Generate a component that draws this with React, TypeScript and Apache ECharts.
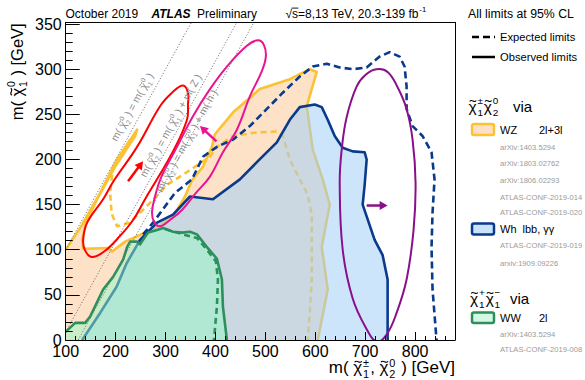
import React, { useEffect, useRef } from "react";
import * as echarts from "echarts";

// ---------------- data (GeV) ----------------
const X_RANGE = [100, 880];
const Y_RANGE = [0, 352];
const xMajorStep = 100;
const xMinorStep = 20;
const yMajorStep = 50;
const yMinorStep = 10;

// WZ (2l+3l) observed exclusion contour
const wzObserved: number[][] = [
  [100, 0], [100, 100], [129, 124], [169, 163], [203, 200], [243, 233], [239, 226], [199, 192],
  [163, 156], [141, 131], [133, 111], [135, 101], [185, 102], [193, 98], [219, 109], [259, 119],
  [289, 127], [319, 140], [339, 159], [353, 177], [375, 192], [393, 214], [399, 228], [435, 252],
  [489, 278], [549, 289], [589, 300], [603, 297], [583, 259], [595, 211], [615, 178], [629, 150],
  [613, 103], [625, 56], [605, 0],
];
// WZ expected
const wzExpected: number[][] = [
  [229, 222], [195, 192], [189, 163], [192, 140], [203, 126], [229, 130], [249, 141], [269, 152],
  [303, 172], [343, 186], [389, 203], [403, 214], [435, 226], [483, 230], [523, 231], [535, 226],
  [549, 200], [569, 178], [585, 161], [593, 139], [593, 103], [593, 67], [589, 30], [585, 0],
];
// Wh observed
const whObserved: number[][] = [
  [133, 0], [169, 30], [202, 59], [222, 85], [249, 111], [283, 130], [315, 139], [349, 159],
  [395, 156], [449, 178], [483, 197], [523, 219], [549, 244], [569, 258], [599, 261], [613, 258],
  [625, 244], [639, 226], [655, 213], [675, 209], [699, 208], [703, 200], [699, 172], [695, 150],
  [719, 111], [735, 94], [745, 67], [745, 0],
];
// Wh expected
const whExpected: number[][] = [
  [255, 117], [275, 130], [319, 163], [353, 178], [375, 203], [403, 214], [435, 222], [469, 237],
  [503, 256], [535, 274], [569, 292], [595, 303], [623, 306], [649, 302], [675, 300], [703, 302],
  [729, 314], [749, 319], [769, 314], [779, 303], [783, 281], [783, 256], [795, 237], [815, 226],
  [833, 208], [839, 178], [835, 141], [833, 103], [835, 56], [843, 0],
];
// WW (2l) observed
const wwObserved: number[][] = [
  [100, 0], [100, 9], [119, 19], [139, 19], [149, 26], [175, 56], [195, 70], [215, 89], [223, 103],
  [229, 109], [243, 109], [249, 106], [255, 111], [265, 119], [283, 122], [295, 124], [315, 120],
  [333, 119], [349, 120], [363, 117], [383, 103], [403, 90], [413, 67], [415, 37], [423, 0],
];
// WW expected
const wwExpected: number[][] = [
  [299, 123], [335, 117], [363, 113], [383, 100], [401, 87], [405, 67], [403, 37], [397, 0],
];
// highlighted regions (ellipses)
const redEllipse: number[][] = [
  [335, 282], [345, 274], [345, 261], [343, 244], [317, 211], [285, 180], [261, 158], [235, 133],
  [205, 113], [177, 98], [153, 92], [139, 99], [135, 111], [143, 130], [175, 156], [197, 177],
  [243, 214], [289, 259], [313, 274],
];
const magentaEllipse: number[][] = [
  [485, 332], [497, 327], [501, 314], [493, 298], [469, 270], [443, 233], [415, 208], [389, 181],
  [361, 163], [333, 144], [309, 133], [289, 126], [277, 131], [273, 142], [279, 159], [291, 180],
  [323, 214], [355, 248], [389, 278], [423, 303], [463, 326],
];
const purpleEllipse: number[][] = [
  [723, 300], [745, 297], [765, 280], [783, 256], [795, 222], [801, 174], [797, 122], [783, 67],
  [763, 30], [743, 6], [723, -2], [703, 12], [675, 46], [655, 100], [649, 174], [653, 211],
  [663, 247], [683, 281], [701, 294],
];
const redArrow: number[][] = [[225, 176], [255, 198]];
const magentaArrow: number[][] = [[402, 220], [369, 237]];
const purpleArrow: number[][] = [[703, 149], [745, 149]];
// kinematic lines
const kinLineZero: number[][] = [[100, 100], [352, 352]];
const kinLineZ: number[][] = [[100, 9], [443, 352]];
const kinLineH: number[][] = [[125, 0], [477, 352]];

const refsWZ = ["arXiv:1403.5294", "arXiv:1803.02762", "arXiv:1806.02293", "ATLAS-CONF-2019-014", "ATLAS-CONF-2019-020"];
const refsWh = ["ATLAS-CONF-2019-019", "arxiv:1909.09226"];
const refsWW = ["arXiv:1403.5294", "ATLAS-CONF-2019-008"];

// ---------------- styles ----------------
const FONT = '"Liberation Sans", Arial, Helvetica, sans-serif';
const C = {
  peach: "#fde2c8",
  orange: "#fbc232",
  blueFill: "rgba(162,208,248,0.55)",
  navy: "#0a3a8c",
  greenFill: "rgba(149,247,197,0.5)",
  green: "#2d8f5c",
  red: "#ff0000",
  magenta: "#ea1490",
  purple: "#8a108a",
  dotted: "#7a7a7a",
  grey: "#9a9a9a",
};

// ---------------- text helpers ----------------
let measureCtx: CanvasRenderingContext2D | null = null;
function textWidth(s: string, size: number, style = "normal", weight = "normal") {
  if (!measureCtx) measureCtx = document.createElement("canvas").getContext("2d");
  measureCtx!.font = `${style} ${weight} ${size}px ${FONT}`;
  return measureCtx!.measureText(s).width;
}
function textEl(s: string, x: number, baseline: number, size: number, fill = "#000", style = "normal", weight = "normal") {
  return {
    type: "text",
    x,
    y: baseline - 0.35 * size,
    z: 100,
    silent: true,
    style: {
      text: s,
      font: `${style} ${weight} ${size}px ${FONT}`,
      lineHeight: size * 0.85,
      fill,
      align: "left",
      verticalAlign: "middle",
      textAlign: "left",
      textVerticalAlign: "middle",
    },
  };
}
function tildeEl(cx: number, cy: number, size: number, color: string) {
  const w = size * 0.42;
  const h = size * 0.11;
  const x0 = cx - w / 2;
  return {
    type: "bezierCurve",
    z: 100,
    silent: true,
    shape: { x1: x0, y1: cy + h * 0.3, cpx1: x0 + w * 0.3, cpy1: cy - h * 1.6, cpx2: x0 + w * 0.7, cpy2: cy + h * 1.6, x2: x0 + w, y2: cy - h * 0.3 },
    style: { stroke: color, lineWidth: Math.max(0.8, size * 0.065), fill: "none" },
  };
}
type MPart = string | { chi?: boolean; sup?: string; sub?: string };
function buildMath(parts: MPart[], size: number, fill = "#000", supShift = 0.47) {
  const children: any[] = [];
  let x = 0;
  const ss = size * 0.64;
  for (const p of parts) {
    if (typeof p === "string") {
      children.push(textEl(p, x, 0, size, fill));
      x += textWidth(p, size);
      continue;
    }
    let bw = 0;
    if (p.chi) {
      const cw = textWidth("χ", size);
      children.push(textEl("χ", x, 0, size, fill));
      children.push(tildeEl(x + cw * 0.55, -size * 0.68, size, fill));
      bw = cw;
    }
    const sx = x + bw + size * 0.05;
    let sw = 0;
    if (p.sup) {
      children.push(textEl(p.sup, sx, -size * supShift, ss, fill));
      sw = Math.max(sw, textWidth(p.sup, ss));
    }
    if (p.sub) {
      children.push(textEl(p.sub, sx, size * 0.27, ss, fill));
      sw = Math.max(sw, textWidth(p.sub, ss));
    }
    x = sx + sw + size * 0.06;
  }
  return { children, width: x };
}
function group(x: number, y: number, rotation: number, children: any[]) {
  return { type: "group", x, y, rotation, z: 100, silent: true, children };
}

// ---------------- series helpers ----------------
function shapeSeries(pts: number[][], kind: "polygon" | "polyline", style: any, z: number, smooth = 0) {
  return {
    type: "custom",
    coordinateSystem: "cartesian2d",
    xAxisIndex: 0,
    yAxisIndex: 0,
    data: pts,
    encode: { x: 0, y: 1 },
    z,
    silent: true,
    clip: true,
    renderItem: (params: any, api: any) => {
      if (params.dataIndex !== 0) return;
      const points = pts.map((p) => api.coord(p));
      return { type: kind, shape: { points, smooth }, style };
    },
  };
}
function arrowSeries(pts: number[][], color: string, z: number) {
  return {
    type: "custom",
    coordinateSystem: "cartesian2d",
    xAxisIndex: 0,
    yAxisIndex: 0,
    data: pts,
    encode: { x: 0, y: 1 },
    z,
    silent: true,
    renderItem: (params: any, api: any) => {
      if (params.dataIndex !== 0) return;
      const a = api.coord(pts[0]);
      const b = api.coord(pts[1]);
      const dx = b[0] - a[0], dy = b[1] - a[1];
      const L = Math.hypot(dx, dy) || 1;
      const ux = dx / L, uy = dy / L;
      const hl = 8, hw = 4.5;
      const base = [b[0] - ux * hl, b[1] - uy * hl];
      const p1 = [base[0] - uy * hw, base[1] + ux * hw];
      const p2 = [base[0] + uy * hw, base[1] - ux * hw];
      return {
        type: "group",
        children: [
          { type: "line", shape: { x1: a[0], y1: a[1], x2: base[0] + ux * 2, y2: base[1] + uy * 2 }, style: { stroke: color, lineWidth: 2.5 } },
          { type: "polygon", shape: { points: [b, p1, p2] }, style: { fill: color } },
        ],
      };
    },
  };
}
const lineStyle = (stroke: string, w: number, dash?: number[]) => ({
  stroke, lineWidth: w, fill: "none", lineDash: dash, lineJoin: "round",
});

function buildOption() {
  const series: any[] = [
    shapeSeries(wzObserved, "polygon", { fill: C.peach }, 2),
    shapeSeries(wzObserved.slice(1), "polyline", lineStyle(C.orange, 2.6), 3),
    shapeSeries(wzExpected, "polyline", lineStyle(C.orange, 2.6, [6, 4]), 3),
    shapeSeries(whObserved, "polygon", { fill: C.blueFill }, 4),
    shapeSeries(whObserved, "polyline", lineStyle(C.navy, 2.6), 5),
    shapeSeries(whExpected, "polyline", lineStyle(C.navy, 2.6, [7, 4]), 5),
    shapeSeries(wwObserved, "polygon", { fill: C.greenFill }, 6),
    shapeSeries(wwObserved.slice(1), "polyline", lineStyle(C.green, 2.6), 7),
    shapeSeries(wwExpected, "polyline", lineStyle(C.green, 2.6, [6, 4]), 7),
    shapeSeries(kinLineZero, "polyline", lineStyle(C.dotted, 1, [1.2, 1.8]), 8),
    shapeSeries(kinLineZ, "polyline", lineStyle(C.dotted, 1, [1.2, 1.8]), 8),
    shapeSeries(kinLineH, "polyline", lineStyle(C.dotted, 1, [1.2, 1.8]), 8),
    shapeSeries(redEllipse, "polygon", { fill: "none", stroke: C.red, lineWidth: 2 }, 9, 0.4),
    shapeSeries(magentaEllipse, "polygon", { fill: "none", stroke: C.magenta, lineWidth: 2 }, 9, 0.4),
    shapeSeries(purpleEllipse, "polygon", { fill: "none", stroke: C.purple, lineWidth: 2 }, 9, 0.4),
    arrowSeries(redArrow, C.red, 10),
    arrowSeries(magentaArrow, C.magenta, 10),
    arrowSeries(purpleArrow, C.purple, 10),
  ];

  const G: any[] = [];
  // header
  G.push(textEl("October 2019", 65.5, 18.3, 12));
  G.push(textEl("ATLAS", 151.5, 18.3, 12, "#000", "italic", "bold"));
  G.push(textEl("Preliminary", 197, 18.3, 12));
  const ecm = buildMath(["√s=8,13 TeV, 20.3-139 fb", { sup: "-1" }], 12);
  const sqW = textWidth("√", 12);
  const sW = textWidth("s", 12);
  G.push(group(285.5, 18.3, 0, [
    ...ecm.children,
    { type: "line", z: 100, silent: true, shape: { x1: sqW - 0.5, y1: -10.2, x2: sqW + sW + 0.3, y2: -10.2 }, style: { stroke: "#000", lineWidth: 0.9 } },
  ]));
  G.push(textEl("All limits at 95% CL", 468, 18.3, 12.3));
  // line-style legend
  G.push({ type: "line", z: 100, silent: true, shape: { x1: 472, y1: 37, x2: 495, y2: 37 }, style: { stroke: "#000", lineWidth: 2.5, lineDash: [7, 4] } });
  G.push({ type: "line", z: 100, silent: true, shape: { x1: 472, y1: 57, x2: 495, y2: 57 }, style: { stroke: "#000", lineWidth: 2.5 } });
  G.push(textEl("Expected limits", 500, 40.6, 11.2));
  G.push(textEl("Observed limits", 500, 60.6, 11.2));
  // chi1+- chi20 block
  const t1 = buildMath([{ chi: true, sup: "±", sub: "1" }, { chi: true, sup: "0", sub: "2" }], 15.5);
  G.push(group(468.5, 111.5, 0, t1.children));
  G.push(textEl("via", 513, 111.5, 15));
  G.push({ type: "rect", z: 100, silent: true, shape: { x: 472, y: 124, width: 22, height: 11, r: 2 }, style: { fill: "#fde0c6", stroke: C.orange, lineWidth: 2.5 } });
  G.push(textEl("WZ", 500, 133.4, 11));
  G.push(textEl("2l+3l", 539, 133.4, 11));
  const wzY = [147.3, 163.3, 180.3, 197.3, 212.7];
  refsWZ.forEach((r, i) => G.push(textEl(r, 500, wzY[i] + 2.7, 7.6, C.grey)));
  G.push({ type: "rect", z: 100, silent: true, shape: { x: 472, y: 223.5, width: 22, height: 11, r: 2 }, style: { fill: "#c9e3f9", stroke: C.navy, lineWidth: 2.5 } });
  G.push(textEl("Wh", 500, 233.2, 11));
  G.push(textEl("lbb, γγ", 522.5, 233.2, 11));
  const whY = [245.7, 263.3];
  refsWh.forEach((r, i) => G.push(textEl(r, 500, whY[i] + 2.7, 7.6, C.grey)));
  // chi1+ chi1- block
  const t2 = buildMath([{ chi: true, sup: "+", sub: "1" }, { chi: true, sup: "−", sub: "1" }], 15.5);
  G.push(group(470, 303.5, 0, t2.children));
  G.push(textEl("via", 510, 303.5, 15));
  G.push({ type: "rect", z: 100, silent: true, shape: { x: 472, y: 312.5, width: 22, height: 10.5, r: 2 }, style: { fill: "#d4f7e6", stroke: C.green, lineWidth: 2.5 } });
  G.push(textEl("WW", 500, 321.7, 11));
  G.push(textEl("2l", 539, 321.7, 11));
  const wwY = [334.3, 349.3];
  refsWW.forEach((r, i) => G.push(textEl(r, 500, wwY[i] + 2.7, 7.6, C.grey)));
  // axis titles
  const xt = buildMath(["m( ", { chi: true, sup: "±", sub: "1" }, ", ", { chi: true, sup: "0", sub: "2" }, " ) [GeV]"], 17, "#000", 0.41);
  G.push(group(455 - xt.width, 373.3, 0, xt.children));
  const yt = buildMath(["m( ", { chi: true, sup: "0", sub: "1" }, " ) [GeV]"], 16.5);
  G.push(group(22.5, 23.3 + yt.width, Math.PI / 2, yt.children));
  // kinematic line labels
  const rot = 1.0655;
  const l1 = buildMath(["m( ", { chi: true, sup: "0", sub: "2" }, " ) = m( ", { chi: true, sup: "0", sub: "1" }, " )"], 10.5, "#8c8c8c");
  G.push(group(117, 142, rot, l1.children));
  const l2 = buildMath(["m( ", { chi: true, sup: "0", sub: "2" }, " ) = m( ", { chi: true, sup: "0", sub: "1" }, " ) + m( Z )"], 10.5, "#8c8c8c");
  G.push(group(146, 178, rot, l2.children));
  const l3 = buildMath(["m( ", { chi: true, sup: "0", sub: "2" }, " ) = m( ", { chi: true, sup: "0", sub: "1" }, " ) + m( h )"], 10.5, "#8c8c8c");
  G.push(group(162, 193, rot, l3.children));

  const hidden = { axisLabel: { show: false }, splitLine: { show: false } };
  return {
    animation: false,
    grid: { left: 65.7, right: 130, top: 22.3, bottom: 40, show: false },
    xAxis: [
      {
        type: "value", min: X_RANGE[0], max: X_RANGE[1], interval: xMajorStep, position: "bottom", z: 50,
        axisLine: { show: true, onZero: false, lineStyle: { color: "#000", width: 1 } },
        axisTick: { show: true, inside: true, length: 8, lineStyle: { color: "#000", width: 1 } },
        axisLabel: {
          show: true, margin: 5, fontSize: 16, fontFamily: FONT, color: "#000", lineHeight: 12,
          formatter: (v: number) => (v % xMajorStep === 0 ? String(v) : ""),
        },
        splitLine: { show: false },
      },
      {
        type: "value", min: X_RANGE[0], max: X_RANGE[1], interval: xMinorStep, position: "bottom", z: 50,
        axisLine: { show: false, onZero: false },
        axisTick: { show: true, inside: true, length: 4, lineStyle: { color: "#000", width: 1 } },
        ...hidden,
      },
      {
        type: "value", min: X_RANGE[0], max: X_RANGE[1], position: "top", z: 50,
        axisLine: { show: true, onZero: false, lineStyle: { color: "#000", width: 1 } },
        axisTick: { show: false },
        ...hidden,
      },
    ],
    yAxis: [
      {
        type: "value", min: Y_RANGE[0], max: Y_RANGE[1], interval: yMajorStep, position: "left", z: 50,
        axisLine: { show: true, onZero: false, lineStyle: { color: "#000", width: 1 } },
        axisTick: { show: true, inside: true, length: 14, lineStyle: { color: "#000", width: 1 } },
        axisLabel: {
          show: true, margin: 4, fontSize: 16, fontFamily: FONT, color: "#000", lineHeight: 9,
          formatter: (v: number) => (v % yMajorStep === 0 ? String(v) : ""),
        },
        splitLine: { show: false },
      },
      {
        type: "value", min: Y_RANGE[0], max: Y_RANGE[1], interval: yMinorStep, position: "left", z: 50,
        axisLine: { show: false, onZero: false },
        axisTick: { show: true, inside: true, length: 7, lineStyle: { color: "#000", width: 1 } },
        ...hidden,
      },
      {
        type: "value", min: Y_RANGE[0], max: Y_RANGE[1], position: "right", z: 50,
        axisLine: { show: true, onZero: false, lineStyle: { color: "#000", width: 1 } },
        axisTick: { show: false },
        ...hidden,
      },
    ],
    series,
    graphic: { elements: G },
  };
}

export default function App() {
  const ref = useRef<HTMLDivElement>(null);
  useEffect(() => {
    const chart = echarts.init(ref.current!, undefined, { renderer: "svg" });
    chart.setOption(buildOption() as any);
    return () => chart.dispose();
  }, []);
  return <div ref={ref} style={{ position: "absolute", left: 0, top: 0, width: 585, height: 380 }} />;
}
